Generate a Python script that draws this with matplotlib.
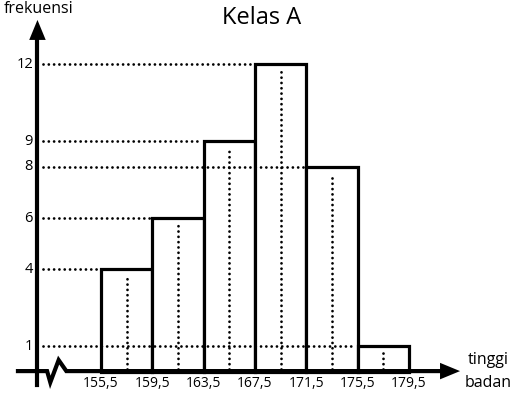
import matplotlib.pyplot as plt

# class boundaries and frequencies
edges = [155.5, 159.5, 163.5, 167.5, 171.5, 175.5, 179.5]
freq = [4, 6, 9, 12, 8, 1]
yticks = [1, 4, 6, 8, 9, 12]
xlabels = ['155,5', '159,5', '163,5', '167,5', '171,5', '175,5', '179,5']

plt.rcParams['font.family'] = ['Open Sans', 'DejaVu Sans']

fig = plt.figure(figsize=(5.19, 3.93), dpi=100)
ax = fig.add_axes([0, 0, 1, 1])
ax.set_xlim(147.63, 188.08)
ax.set_ylim(-0.836, 14.52)
ax.axis('off')

dot = dict(color='black', lw=2.0, linestyle=(0, (0.01, 1.9)), dash_capstyle='round')

# bars
lefts = edges[:-1]
width = edges[1] - edges[0]
mids = [l + width / 2 for l in lefts]
ax.bar(lefts, freq, width=width, align='edge', facecolor='white',
       edgecolor='black', linewidth=2.3, zorder=2)

# dotted guides
for l, m, f in zip(lefts, mids, freq):
    ax.plot([151.0, l - 0.1], [f, f], zorder=3, **dot)
    ax.plot([m, m], [0.1, f - 0.25], zorder=3, **dot)

# axes with arrows
x0 = 150.55  # y axis position
head = dict(arrowstyle='-|>,head_length=0.8,head_width=0.33',
            color='black', lw=0, mutation_scale=18)
ax.plot([x0, x0], [-0.52, 13.0], color='black', lw=3.0, zorder=4)
ax.annotate('', xy=(x0, 13.85), xytext=(x0, 12.9), arrowprops=head, zorder=5)
zx = [149.03, 151.3, 151.55, 152.2, 152.8, 153.1, 182.6]
zy = [0.02, 0.02, -0.42, 0.45, 0.02, 0.02, 0.02]
ax.plot(zx, zy, color='black', lw=3.0, solid_joinstyle='miter', zorder=4)
ax.annotate('', xy=(183.7, 0.02), xytext=(182.5, 0.02), arrowprops=head, zorder=5)

# tick labels
for t in yticks:
    ax.text(x0 - 0.35, t, str(t), ha='right', va='center', fontsize=10.5)
for e, s in zip(edges, xlabels):
    ax.text(e, -0.47, s, ha='center', va='center', fontsize=10)

ax.text(147.9, 14.15, 'frekuensi', ha='left', va='center', fontsize=11.5)
ax.text(185.7, 0.45, 'tinggi', ha='center', va='center', fontsize=11.5)
ax.text(185.7, -0.45, 'badan', ha='center', va='center', fontsize=11.5)
ax.text(168.0, 13.8, 'Kelas A', ha='center', va='center', fontsize=17)

fig.savefig('out.png', dpi=100)
